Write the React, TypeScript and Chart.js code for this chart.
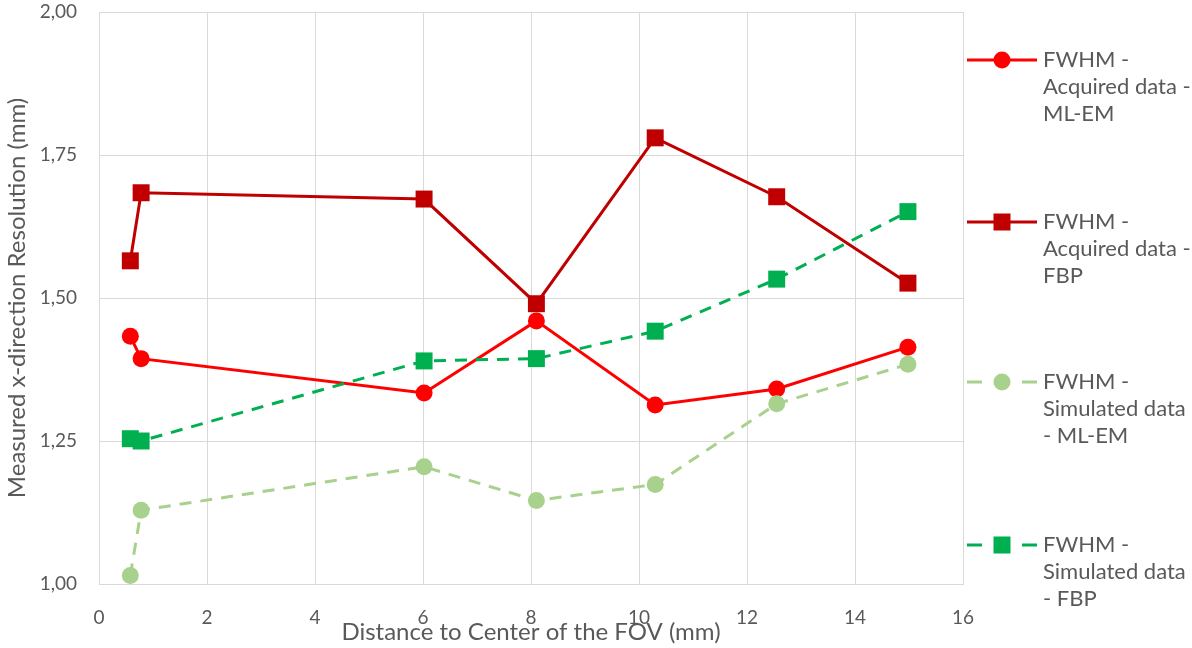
import React, { useEffect, useRef } from 'react';
import { Chart, registerables } from 'chart.js';

Chart.register(...registerables);

const distances = [0.58, 0.78, 6.02, 8.1, 10.3, 12.55, 14.98];
const acquiredMLEM = [1.433, 1.394, 1.334, 1.46, 1.313, 1.341, 1.414];
const acquiredFBP = [1.565, 1.684, 1.673, 1.49, 1.78, 1.677, 1.526];
const simulatedMLEM = [1.015, 1.129, 1.205, 1.146, 1.174, 1.315, 1.384];
const simulatedFBP = [1.254, 1.25, 1.39, 1.394, 1.442, 1.533, 1.651];

const seriesLabels = [
  'FWHM - Acquired data - ML-EM',
  'FWHM - Acquired data - FBP',
  'FWHM - Simulated data - ML-EM',
  'FWHM - Simulated data - FBP',
];
const legendLines = [
  ['FWHM -', 'Acquired data -', 'ML-EM'],
  ['FWHM -', 'Acquired data -', 'FBP'],
  ['FWHM -', 'Simulated data', '- ML-EM'],
  ['FWHM -', 'Simulated data', '- FBP'],
];
const xTitle = 'Distance to Center of the FOV (mm)';
const yTitle = 'Measured x-direction Resolution (mm)';

const FONT = 'Lato, "Open Sans", sans-serif';
const TEXT = '#595959';
const GRID = '#d9d9d9';

const toPoints = (ys: number[]) => distances.map((x, i) => ({ x, y: ys[i] }));

const legendPlugin = {
  id: 'sideLegend',
  afterDraw(chart: any) {
    const ctx = chart.ctx as CanvasRenderingContext2D;
    const ys = [60, 222, 382, 545];
    const lx0 = 967, lx1 = 1037, mx = 1002, tx = 1043, lh = 27;
    ctx.save();
    chart.data.datasets.forEach((ds: any, i: number) => {
      const y = ys[i];
      ctx.strokeStyle = ds.borderColor;
      ctx.lineWidth = 3;
      ctx.setLineDash([]);
      ctx.beginPath();
      if (ds.borderDash && ds.borderDash.length) {
        ctx.moveTo(lx0, y); ctx.lineTo(lx0 + 15, y);
        ctx.moveTo(lx1 - 15, y); ctx.lineTo(lx1, y);
      } else {
        ctx.moveTo(lx0, y); ctx.lineTo(lx1, y);
      }
      ctx.stroke();
      ctx.fillStyle = ds.backgroundColor;
      if (ds.pointStyle === 'rect') {
        ctx.fillRect(mx - 8.5, y - 8.5, 17, 17);
      } else {
        ctx.beginPath();
        ctx.arc(mx, y, 8.5, 0, Math.PI * 2);
        ctx.fill();
      }
      ctx.fillStyle = TEXT;
      ctx.font = `22px ${FONT}`;
      ctx.textBaseline = 'middle';
      ctx.textAlign = 'left';
      legendLines[i].forEach((t, k) => ctx.fillText(t, tx, y + k * lh));
    });
    ctx.restore();
  },
};

export default function App() {
  const ref = useRef<HTMLCanvasElement>(null);
  useEffect(() => {
    document.body.style.margin = '0';
    const colors = ['#ff0000', '#c00000', '#a9d18e', '#00b050'];
    const series = [acquiredMLEM, acquiredFBP, simulatedMLEM, simulatedFBP];
    const styles = ['circle', 'rect', 'circle', 'rect'];
    const dashed = [false, false, true, true];
    const chart = new Chart(ref.current!, {
      type: 'line',
      data: {
        datasets: series.map((s, i) => ({
          label: seriesLabels[i],
          data: toPoints(s),
          borderColor: colors[i],
          backgroundColor: colors[i],
          borderWidth: 3,
          borderDash: dashed[i] ? [12, 9] : [],
          pointStyle: styles[i],
          pointRadius: styles[i] === 'rect' ? 12 : 8.5,
          pointBorderWidth: 0,
          pointBackgroundColor: colors[i],
          tension: 0,
          order: 4 - i,
        })) as any,
      },
      options: {
        animation: false,
        responsive: false,
        layout: { padding: { top: 12, right: 229, left: 0, bottom: 0 } },
        plugins: { legend: { display: false }, tooltip: { enabled: false } },
        scales: {
          x: {
            type: 'linear',
            min: 0,
            max: 16,
            ticks: { stepSize: 2, color: TEXT, font: { family: FONT, size: 19 }, padding: 22 },
            grid: { color: GRID, lineWidth: 1, drawTicks: false },
            border: { color: GRID, width: 1 },
            title: { display: true, text: xTitle, color: TEXT, font: { family: FONT, size: 24 }, padding: { top: 0, bottom: 1 } },
            afterFit: (s: any) => { s.height = 64; s.paddingLeft = 0; s.paddingRight = 0; },
          },
          y: {
            type: 'linear',
            min: 1,
            max: 2,
            ticks: {
              stepSize: 0.25,
              color: TEXT,
              font: { family: FONT, size: 19 },
              padding: 22,
              callback: (v: any) => Number(v).toFixed(2).replace('.', ','),
            },
            grid: { color: GRID, lineWidth: 1, drawTicks: false },
            border: { color: GRID, width: 1 },
            title: { display: true, text: yTitle, color: TEXT, font: { family: FONT, size: 24 }, padding: { top: 3, bottom: 0 } },
            afterFit: (s: any) => { s.width = 99; s.paddingTop = 0; s.paddingBottom = 0; },
          },
        },
      },
      plugins: [legendPlugin],
    });
    return () => chart.destroy();
  }, []);
  return (
    <div style={{ position: 'absolute', left: 0, top: 0, width: 1192, height: 648, background: '#fff' }}>
      <canvas ref={ref} width={1192} height={648} style={{ display: 'block' }} />
    </div>
  );
}
